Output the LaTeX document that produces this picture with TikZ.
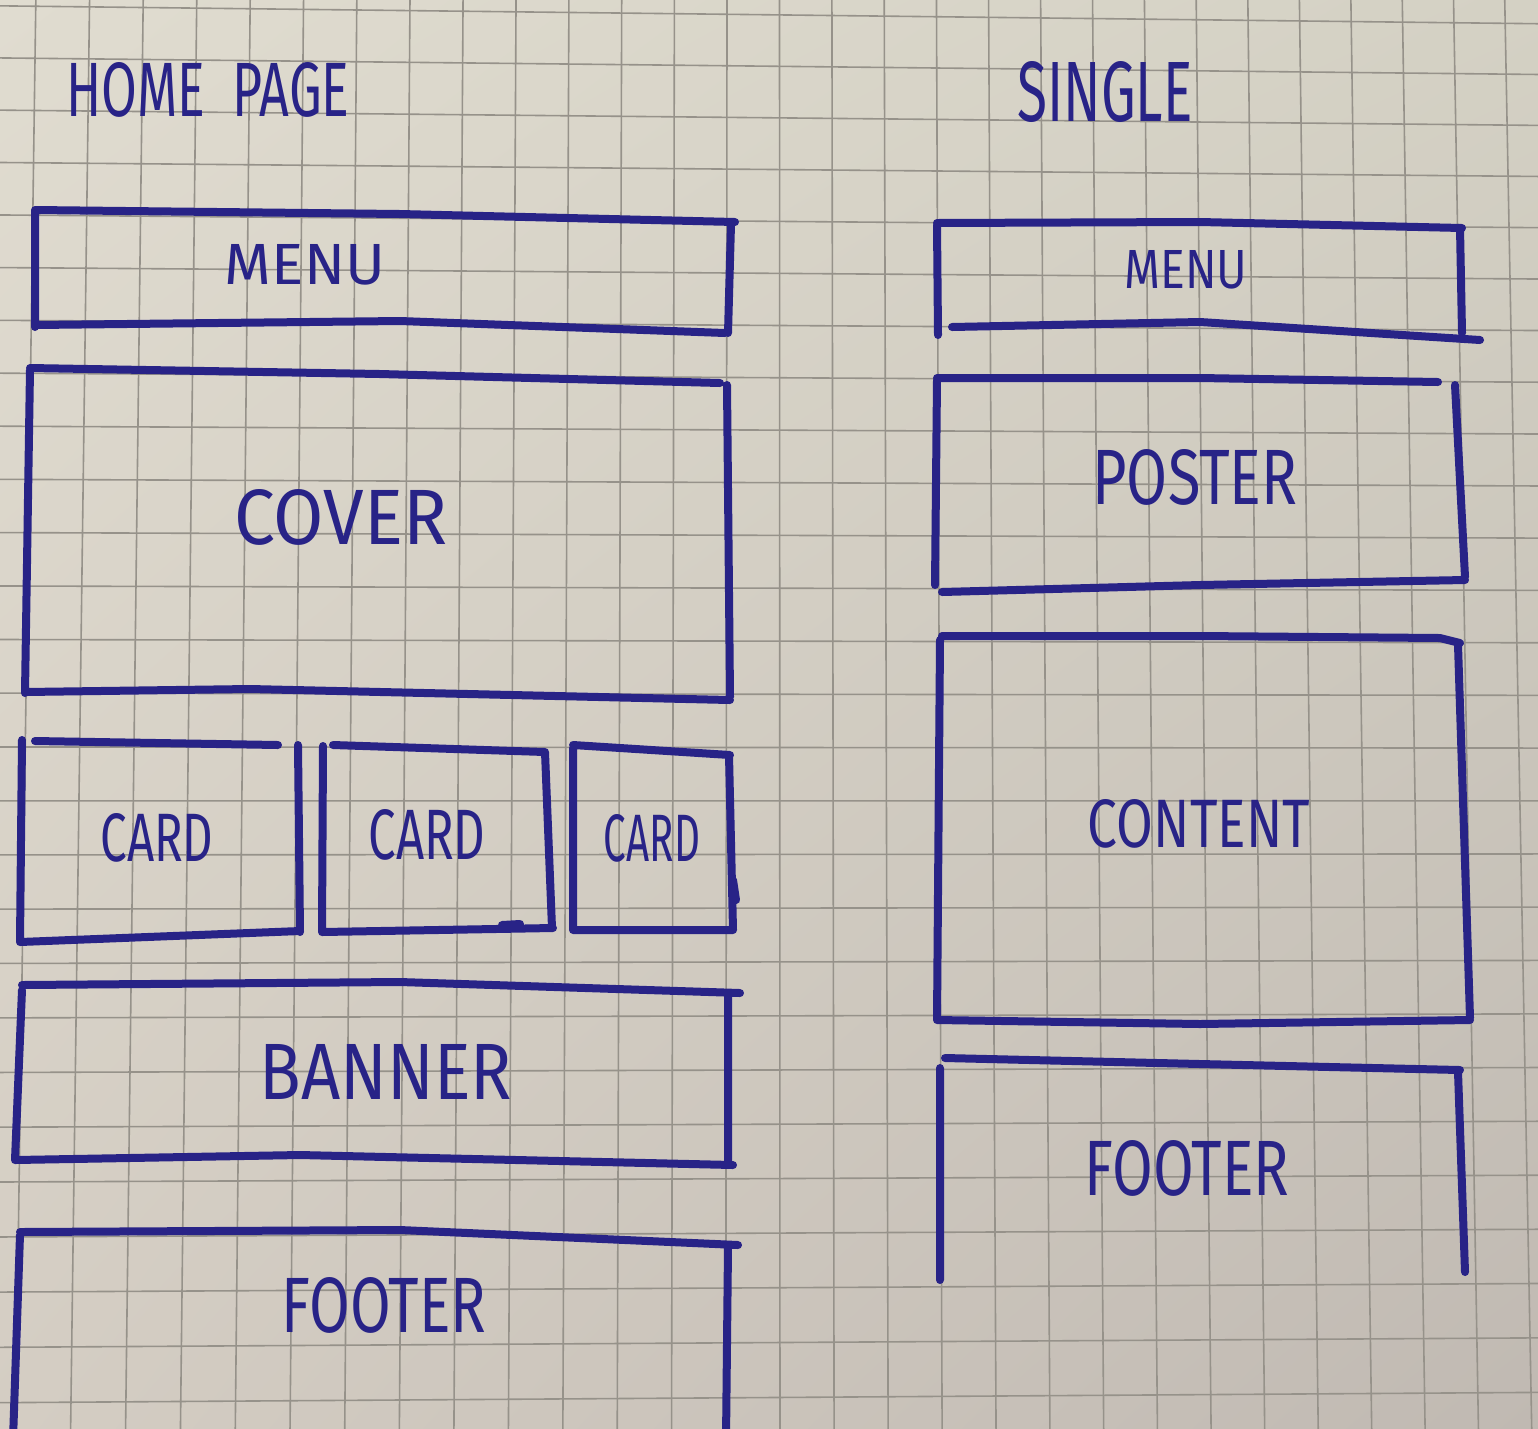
\documentclass[tikz,border=0pt]{standalone}
\usepackage{graphicx}
\usepackage{fontspec}
\usetikzlibrary{shadings}
\setmainfont{Fira Sans}
\definecolor{ink}{RGB}{40,35,135}
\definecolor{gridln}{RGB}{150,146,138}
\definecolor{paperUL}{RGB}{224,220,208}
\definecolor{paperUR}{RGB}{212,209,196}
\definecolor{paperLL}{RGB}{212,205,195}
\definecolor{paperLR}{RGB}{192,185,178}
\begin{document}
\begin{tikzpicture}[x=1pt,y=-1pt,
  pen/.style={draw=ink,line width=8pt,line cap=round,line join=round},
  gridline/.style={draw=gridln,line width=1.6pt},
  lbl/.style={inner sep=0pt,text=ink}]
\useasboundingbox (0,0) rectangle (1538,1428);

% paper
\shade[shading=bilinear interpolation,
       upper left=paperUL,upper right=paperUR,lower left=paperLL,lower right=paperLR]
  (0,0) rectangle (1538,1428);

% squared ruling, slightly in perspective
\begin{scope}
\clip (0,0) rectangle (1538,1428);
\foreach \gk in {0,...,28}{
  \pgfmathsetmacro{\gxa}{35+53.83*\gk-0.0464*\gk*\gk}
  \pgfmathsetmacro{\gxb}{17+54.96*\gk-0.0332*\gk*\gk}
  \pgfmathsetmacro{\gsl}{(\gxb-\gxa)/1270}
  \draw[gridline] ({\gxa-80*\gsl},-20) -- ({\gxb+120*\gsl},1450);
}
\foreach \gj in {0,...,26}{
  \pgfmathsetmacro{\gya}{7+51.93*\gj+0.0663*\gj*\gj}
  \pgfmathsetmacro{\gyb}{22.7+50.76*\gj+0.0747*\gj*\gj}
  \pgfmathsetmacro{\gsl}{(\gyb-\gya)/1350}
  \draw[gridline] (-20,{\gya-120*\gsl}) -- (1560,{\gyb+110*\gsl});
}
\end{scope}

% ---------- home page ----------
\node[lbl] (homeTitle) at (208,90) {\resizebox{283pt}{54pt}{HOME\ \ PAGE}};

% menu
\draw[pen] (35,210) -- (400,214) -- (735,222)
           (35,210) -- (35,327)
           (35,325) -- (400,321) -- (725,333)
           (731,224) -- (728,333);
\node[lbl] (homeMenu) at (305,265) {\resizebox{160pt}{40pt}{MENU}};

% cover
\draw[pen] (30,368) -- (380,374) -- (720,383)
           (30,370) -- (25,693)
           (25,692) -- (250,689) -- (730,700)
           (727,385) -- (730,697);
\node[lbl] (homeCover) at (341,517) {\resizebox{213pt}{55pt}{COVER}};

% cards
\draw[pen] (35,741) -- (278,745)
           (22,740) -- (20,942)
           (20,942) -- (300,931)
           (298,745) -- (300,932);
\node[lbl] (cardA) at (157,838) {\resizebox{113pt}{48pt}{CARD}};

\draw[pen] (333,745) -- (545,752)
           (323,746) -- (322,932)
           (322,932) -- (553,928)
           (545,752) -- (552,928)
           (502,925) -- (520,924);
\node[lbl] (cardB) at (427,835) {\resizebox{117pt}{50pt}{CARD}};

\draw[pen] (573,745) -- (730,755)
           (573,748) -- (573,930)
           (573,930) -- (733,930)
           (729,755) -- (733,930)
           (733,880) -- (736,900);
\node[lbl] (cardC) at (652,838) {\resizebox{96pt}{47pt}{CARD}};

% banner
\draw[pen] (22,985) -- (400,982) -- (740,993)
           (22,990) -- (15,1160)
           (15,1160) -- (300,1155) -- (733,1165)
           (728,995) -- (728,1165);
\node[lbl] (homeBanner) at (386,1072) {\resizebox{252pt}{55pt}{BANNER}};

% footer
\draw[pen] (20,1232) -- (400,1230) -- (738,1245)
           (20,1235) -- (13,1440)
           (728,1247) -- (726,1440);
\node[lbl] (homeFooter) at (384,1305) {\resizebox{205pt}{55pt}{FOOTER}};

% ---------- single ----------
\node[lbl] (singleTitle) at (1105,92) {\resizebox{175pt}{60pt}{SINGLE}};

% menu
\draw[pen] (937,223) -- (1200,222) -- (1462,228)
           (937,225) -- (938,335)
           (1460,228) -- (1462,333)
           (952,327) -- (1200,322) -- (1480,340);
\node[lbl] (singleMenu) at (1186,270) {\resizebox{123pt}{38pt}{MENU}};

% poster
\draw[pen] (937,378) -- (1200,378) -- (1438,382)
           (937,380) -- (935,585)
           (1455,385) -- (1465,577)
           (942,592) -- (1200,585) -- (1465,580);
\node[lbl] (singlePoster) at (1195,477) {\resizebox{205pt}{55pt}{POSTER}};

% content
\draw[pen] (942,636) -- (1200,636) -- (1440,638) -- (1460,643)
           (940,640) -- (937,1020)
           (1458,645) -- (1470,1018)
           (937,1020) -- (1200,1024) -- (1470,1020);
\node[lbl] (singleContent) at (1199,824) {\resizebox{222pt}{48pt}{CONTENT}};

% footer
\draw[pen] (945,1058) -- (1200,1064) -- (1460,1070)
           (940,1068) -- (940,1280)
           (1458,1072) -- (1465,1272);
\node[lbl] (singleFooter) at (1187,1168) {\resizebox{205pt}{55pt}{FOOTER}};
\end{tikzpicture}
\end{document}
